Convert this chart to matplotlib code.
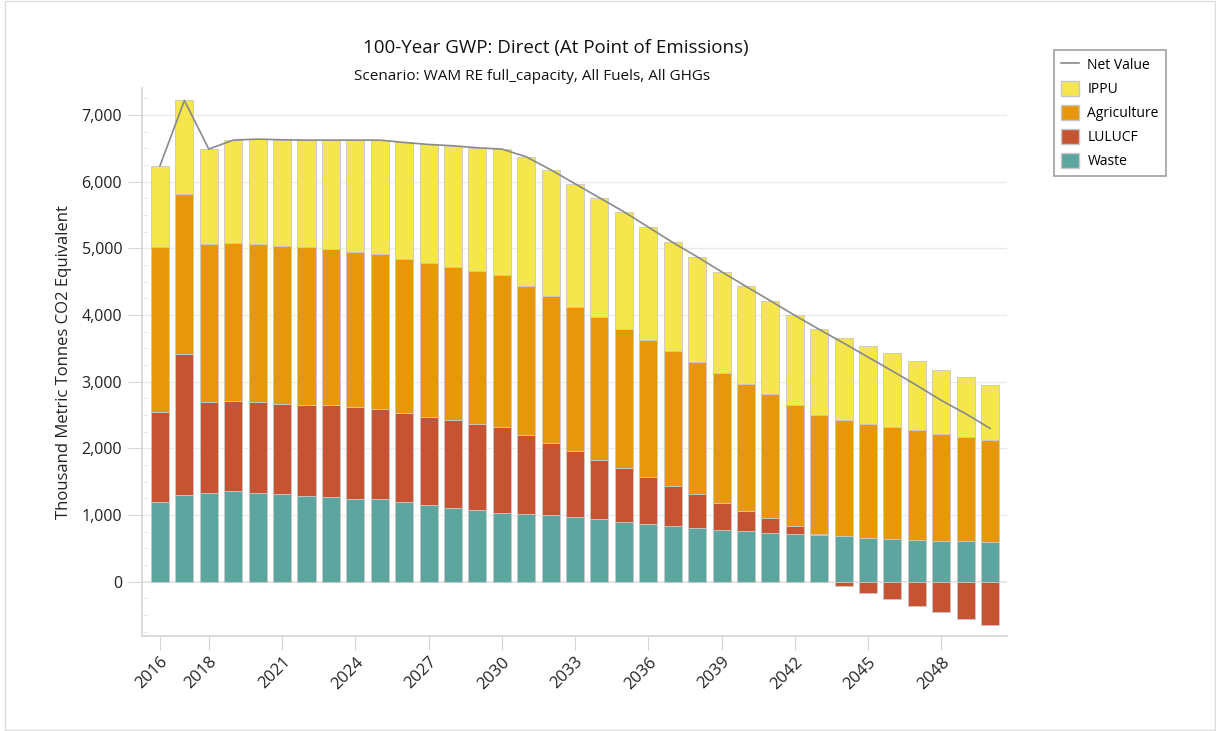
import matplotlib
matplotlib.use("Agg")
import matplotlib.pyplot as plt
from matplotlib.ticker import FuncFormatter, MultipleLocator
from matplotlib.patches import Patch
from matplotlib.lines import Line2D
import numpy as np

plt.rcParams['font.family'] = ['Open Sans', 'DejaVu Sans']

years = list(range(2016, 2051))

waste = [1200, 1295, 1335, 1360, 1335, 1310, 1290, 1270, 1245, 1235, 1190, 1150,
         1110, 1070, 1030, 1020, 995, 965, 935, 900, 865, 835, 810, 780, 755, 730,
         715, 695, 680, 660, 640, 625, 615, 605, 600]
lulucf = [1350, 2115, 1365, 1355, 1360, 1360, 1360, 1380, 1380, 1355, 1340, 1325,
          1315, 1300, 1295, 1185, 1090, 1000, 895, 800, 705, 600, 505, 405, 310,
          220, 120, 20, -70, -165, -265, -360, -460, -555, -655]
agriculture = [2475, 2410, 2370, 2370, 2365, 2370, 2370, 2335, 2320, 2325, 2315,
               2310, 2295, 2295, 2275, 2235, 2205, 2160, 2135, 2095, 2055, 2025,
               1980, 1945, 1905, 1865, 1820, 1785, 1745, 1710, 1685, 1650, 1605,
               1570, 1520]
ippu = [1215, 1400, 1420, 1540, 1580, 1590, 1605, 1640, 1680, 1710, 1745, 1775,
        1820, 1845, 1890, 1935, 1890, 1845, 1795, 1755, 1695, 1630, 1580, 1520,
        1460, 1400, 1340, 1285, 1225, 1165, 1100, 1030, 960, 900, 835]

tick_years = [2016, 2018, 2021, 2024, 2027, 2030, 2033, 2036, 2039, 2042, 2045, 2048]

c_ippu = '#F4E64C'
c_agri = '#E6970B'
c_lulucf = '#C65432'
c_waste = '#5DA6A0'
edge = '#C8C8C8'
axis_grey = '#D4D4D4'

x = np.array(years)
w_arr = np.array(waste)
l_arr = np.array(lulucf)
a_arr = np.array(agriculture)
i_arr = np.array(ippu)
net = w_arr + l_arr + a_arr + i_arr

fig = plt.figure(figsize=(12.16, 7.31), dpi=100)
ax = fig.add_axes([0.1165, 0.130, 0.7114, 0.749])

width = 0.74
pos_l = np.where(l_arr > 0, l_arr, 0)
neg_l = np.where(l_arr < 0, l_arr, 0)
ax.bar(x, w_arr, width, color=c_waste, edgecolor=edge, linewidth=0.6, zorder=2)
ax.bar(x, pos_l, width, bottom=w_arr, color=c_lulucf, edgecolor=edge, linewidth=0.6, zorder=2)
ax.bar(x, neg_l, width, color=c_lulucf, edgecolor=edge, linewidth=0.6, zorder=2)
ax.bar(x, a_arr, width, bottom=w_arr + pos_l, color=c_agri, edgecolor=edge, linewidth=0.6, zorder=2)
ax.bar(x, i_arr, width, bottom=w_arr + pos_l + a_arr, color=c_ippu, edgecolor=edge, linewidth=0.6, zorder=2)
ax.plot(x, net, color='#8A8A8A', linewidth=1.2, zorder=3)

ax.set_xlim(2015.25, 2050.68)
ax.set_ylim(-814, 7400)
ax.set_yticks(range(0, 7001, 1000))
ax.yaxis.set_minor_locator(MultipleLocator(250))
ax.yaxis.set_major_formatter(FuncFormatter(lambda v, p: f"{int(v):,}"))
ax.set_xticks(tick_years)
ax.set_xticklabels([str(t) for t in tick_years], rotation=45, ha='right',
                   rotation_mode='anchor', fontsize=12)
ax.tick_params(axis='y', which='major', length=10, color=axis_grey, labelsize=11.5,
               labelcolor='#222222', pad=4)
ax.tick_params(axis='y', which='minor', length=4, direction='in', color='#E4E4E4')
ax.tick_params(axis='x', length=10, color=axis_grey, labelcolor='#222222', pad=3)

ax.grid(axis='y', color='#EBEBEB', linewidth=1, zorder=0)
ax.axhline(0, color='#DDDDDD', linewidth=1.2, zorder=1)
for s in ['top', 'right']:
    ax.spines[s].set_visible(False)
for s in ['left', 'bottom']:
    ax.spines[s].set_color(axis_grey)
    ax.spines[s].set_linewidth(1.2)

ax.set_ylabel("Thousand Metric Tonnes CO2 Equivalent", fontsize=12, color='#222222')
ax.yaxis.set_label_coords(-0.080, 0.5)

fig.text(556 / 1216, 1 - 48 / 731, "100-Year GWP: Direct (At Point of Emissions)",
         ha='center', va='center', fontsize=13.5, color='#111111')
fig.text(532 / 1216, 1 - 76 / 731, "Scenario: WAM RE full_capacity, All Fuels, All GHGs",
         ha='center', va='center', fontsize=11, color='#111111')

handles = [Line2D([0], [0], color='#8A8A8A', linewidth=1.2),
           Patch(facecolor=c_ippu, edgecolor=edge),
           Patch(facecolor=c_agri, edgecolor=edge),
           Patch(facecolor=c_lulucf, edgecolor=edge),
           Patch(facecolor=c_waste, edgecolor=edge)]
labels = ["Net Value", "IPPU", "Agriculture", "LULUCF", "Waste"]
leg = fig.legend(handles, labels, loc='upper left', bbox_to_anchor=(1054 / 1216, 1 - 50 / 731),
                 borderaxespad=0, fontsize=10, frameon=True, fancybox=False,
                 handlelength=1.3, handleheight=1.25, borderpad=0.5, labelspacing=0.58,
                 handletextpad=0.6)
leg.get_frame().set_edgecolor('#888888')
leg.get_frame().set_linewidth(1.2)

# thin outer border like the screenshot
fig.patches.append(plt.Rectangle((0.004, 0.002), 0.995, 0.996, transform=fig.transFigure,
                                 fill=False, edgecolor='#DDDDDD', linewidth=1))

fig.savefig("out.png", dpi=100)
